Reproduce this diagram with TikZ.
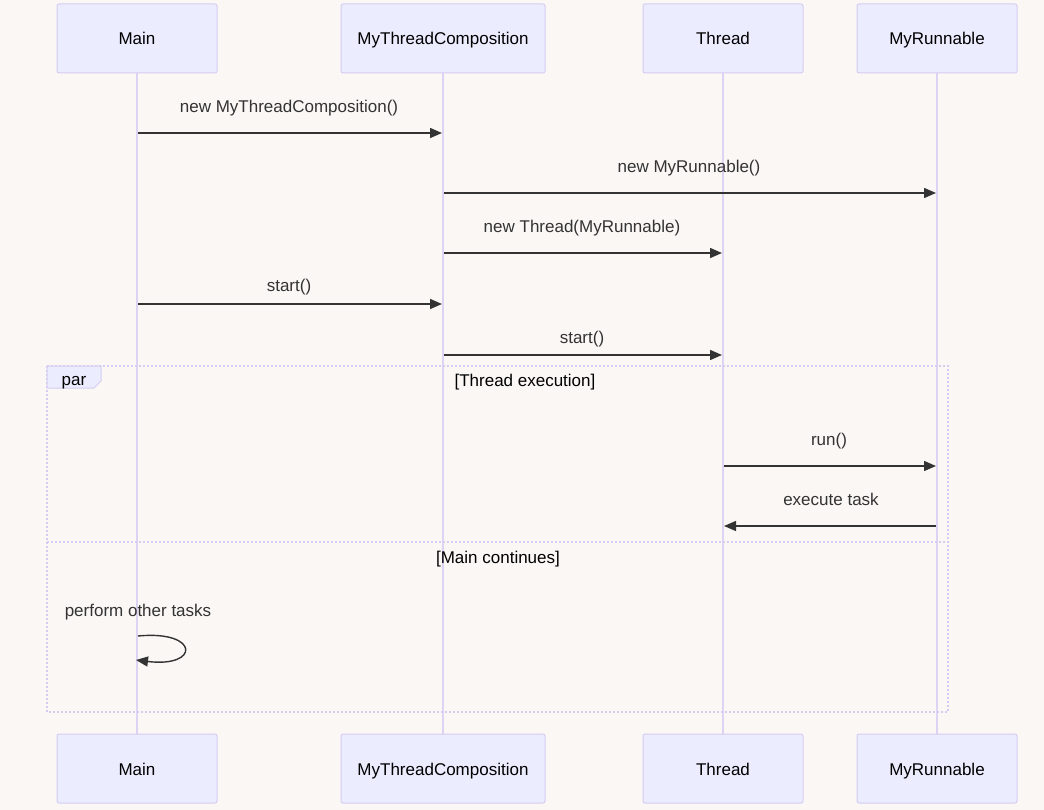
\documentclass[tikz,border=0pt]{standalone}
\usepackage{fontspec}
\setmainfont{Liberation Sans}
\usetikzlibrary{arrows.meta}
\definecolor{bg}{HTML}{FAF7F5}
\definecolor{actfill}{HTML}{ECECFF}
\definecolor{actline}{HTML}{D6CCF2}
\definecolor{life}{HTML}{DCD3F5}
\definecolor{msg}{HTML}{333333}
\definecolor{parline}{HTML}{D4CCF0}
\begin{document}
\begin{tikzpicture}[x=1pt,y=-1pt,
  txt/.style={font=\fontsize{17}{19}\selectfont,text height=14.5pt,text depth=1.5pt},
  actor/.style={txt,draw=actline,fill=actfill,line width=1pt,rounded corners=2pt,minimum width=160pt,minimum height=69pt,inner sep=0pt},
  lifeline/.style={draw=life,line width=1.6pt},
  msgline/.style={draw=msg,line width=1.4pt,-{Triangle[length=12pt,width=10pt]}},
  msglabel/.style={txt,text=msg,inner sep=0pt},
  parbox/.style={draw=parline,line width=1.4pt,dash pattern=on 2pt off 2pt},
  guard/.style={txt,inner sep=0pt}]
\fill[bg] (0,0) rectangle (1044,810);
\useasboundingbox (0,0) rectangle (1044,810);
% lifelines first
\draw[lifeline] (137,73) -- (137,734);
\draw[lifeline] (443,73) -- (443,734);
\draw[lifeline] (723,73) -- (723,734);
\draw[lifeline] (937,73) -- (937,734);
% actors
\node[actor] (mainT) at (137,38.5) {Main};
\node[actor,minimum width=204pt] (mtcT) at (443,38.5) {MyThreadComposition};
\node[actor] (thrT) at (723,38.5) {Thread};
\node[actor] (runT) at (937,38.5) {MyRunnable};
\node[actor] (mainB) at (137,768.5) {Main};
\node[actor,minimum width=204pt] (mtcB) at (443,768.5) {MyThreadComposition};
\node[actor] (thrB) at (723,768.5) {Thread};
\node[actor] (runB) at (937,768.5) {MyRunnable};
% par frame
\draw[parbox] (47,366) rectangle (948,712);
\draw[parline,fill=actfill,line width=1pt] (47,366) -- (101,366) -- (101,381) -- (94,388) -- (47,388) -- cycle;
\node[guard] (parlbl) at (74,379) {par};
\node[guard] (g1) at (525,380) {[Thread execution]};
\draw[parbox] (47,542) -- (948,542);
\node[guard] (g2) at (498,557) {[Main continues]};
% message coordinates
\coordinate (m1a) at (138,133); \coordinate (m1b) at (442,133);
\coordinate (m2a) at (444,193); \coordinate (m2b) at (936,193);
\coordinate (m3a) at (444,253); \coordinate (m3b) at (722,253);
\coordinate (m4a) at (138,304); \coordinate (m4b) at (442,304);
\coordinate (m5a) at (444,355); \coordinate (m5b) at (722,355);
\coordinate (m6a) at (724,466); \coordinate (m6b) at (936,466);
\coordinate (m7a) at (936,526); \coordinate (m7b) at (724,526);
\coordinate (s1) at (138,636); \coordinate (s2) at (136,660);
\draw[msgline] (m1a) -- (m1b);
\node[msglabel] (l1) at (289,106) {new MyThreadComposition()};
\draw[msgline] (m2a) -- (m2b);
\node[msglabel] (l2) at (689,166) {new MyRunnable()};
\draw[msgline] (m3a) -- (m3b);
\node[msglabel] (l3) at (582,226) {new Thread(MyRunnable)};
\draw[msgline] (m4a) -- (m4b);
\node[msglabel] (l4) at (289,285) {start()};
\draw[msgline] (m5a) -- (m5b);
\node[msglabel] (l5) at (582,337) {start()};
\draw[msgline] (m6a) -- (m6b);
\node[msglabel] (l6) at (829,439) {run()};
\draw[msgline] (m7a) -- (m7b);
\node[msglabel] (l7) at (831,499) {execute task};
\node[msglabel] (l8) at (138,610) {perform other tasks};
\draw[msgline] (s1) .. controls (200,630) and (200,668) .. (s2);
\end{tikzpicture}
\end{document}
